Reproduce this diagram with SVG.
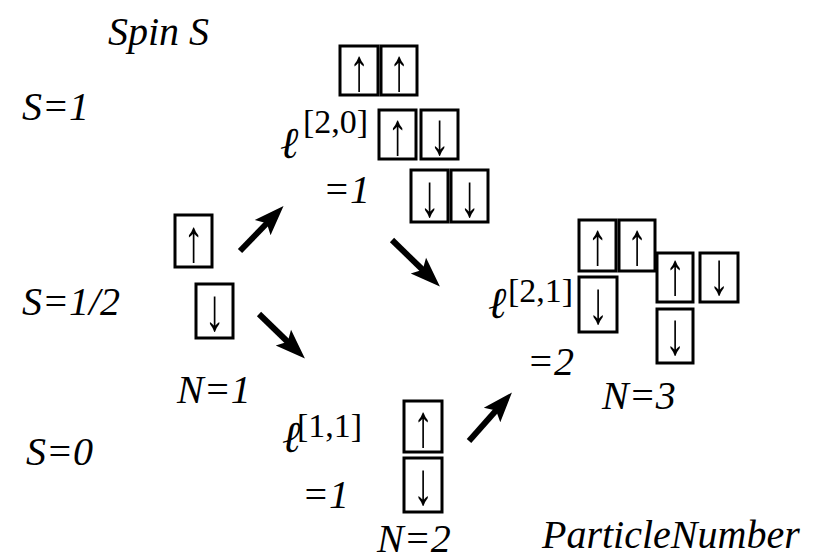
<svg xmlns="http://www.w3.org/2000/svg" width="818" height="558" viewBox="0 0 818 558">
<style>
.box{fill:none;stroke:#000;stroke-width:3}
.arr{stroke:#000;stroke-width:6;fill:none}
</style>
<defs>
<marker id="ah" viewBox="0 0 30 24" refX="12" refY="12" markerWidth="30" markerHeight="24" markerUnits="userSpaceOnUse" orient="auto">
<path d="M0,1 L30,12 L0,23 L6,12 Z" fill="#000" stroke="none"/>
</marker>
</defs>
<rect width="818" height="558" fill="#fff"/>
<g id="axes">
<text font-family="Liberation Serif, Times New Roman, serif" font-style="italic" font-size="40" x="108" y="45">Spin S</text>
<text font-family="Liberation Serif, Times New Roman, serif" font-style="italic" font-size="40" x="22" y="120">S=1</text>
<text font-family="Liberation Serif, Times New Roman, serif" font-style="italic" font-size="40" x="22" y="315">S=1/2</text>
<text font-family="Liberation Serif, Times New Roman, serif" font-style="italic" font-size="40" x="26" y="465">S=0</text>
<text font-family="Liberation Serif, Times New Roman, serif" font-style="italic" font-size="40" x="542" y="548">ParticleNumber</text>
</g>
<g id="node-n1">
<rect class="box" x="175" y="215" width="37" height="52"/>
<rect class="box" x="196" y="284" width="37" height="54"/>
<text font-family="Liberation Serif, Times New Roman, serif" font-size="40" text-anchor="middle" x="193.5" y="174.3" transform="scale(1 1.5)">↑</text>
<text font-family="Liberation Serif, Times New Roman, serif" font-size="40" text-anchor="middle" x="214.5" y="220.3" transform="scale(1 1.5)">↓</text>
<text font-family="Liberation Serif, Times New Roman, serif" font-style="italic" font-size="40" x="177" y="403">N=1</text>
</g>
<g id="node-20">
<rect class="box" x="340" y="46" width="38" height="49"/>
<rect class="box" x="381" y="46" width="36" height="49"/>
<rect class="box" x="379" y="110" width="37" height="49"/>
<rect class="box" x="421" y="110" width="37" height="49"/>
<rect class="box" x="411" y="170" width="37" height="52"/>
<rect class="box" x="451" y="170" width="37" height="52"/>
<text font-family="Liberation Serif, Times New Roman, serif" font-size="40" text-anchor="middle" x="359" y="60" transform="scale(1 1.5)">↑</text>
<text font-family="Liberation Serif, Times New Roman, serif" font-size="40" text-anchor="middle" x="399" y="60" transform="scale(1 1.5)">↑</text>
<text font-family="Liberation Serif, Times New Roman, serif" font-size="40" text-anchor="middle" x="397.5" y="102.7" transform="scale(1 1.5)">↑</text>
<text font-family="Liberation Serif, Times New Roman, serif" font-size="40" text-anchor="middle" x="439.5" y="102.7" transform="scale(1 1.5)">↓</text>
<text font-family="Liberation Serif, Times New Roman, serif" font-size="40" text-anchor="middle" x="429.5" y="143.7" transform="scale(1 1.5)">↓</text>
<text font-family="Liberation Serif, Times New Roman, serif" font-size="40" text-anchor="middle" x="469.5" y="143.7" transform="scale(1 1.5)">↓</text>
<text font-family="Liberation Serif, Times New Roman, serif" font-style="italic" font-size="44" x="280" y="158">ℓ</text>
<text font-family="Liberation Serif, Times New Roman, serif" font-size="34" x="303" y="133">[2,0]</text>
<text font-family="Liberation Serif, Times New Roman, serif" font-style="italic" font-size="40" x="323" y="203">=1</text>
</g>
<g id="node-11">
<rect class="box" x="404" y="401" width="38" height="51"/>
<rect class="box" x="404" y="458" width="38" height="54"/>
<text font-family="Liberation Serif, Times New Roman, serif" font-size="40" text-anchor="middle" x="423" y="297.3" transform="scale(1 1.5)">↑</text>
<text font-family="Liberation Serif, Times New Roman, serif" font-size="40" text-anchor="middle" x="423" y="336.3" transform="scale(1 1.5)">↓</text>
<text font-family="Liberation Serif, Times New Roman, serif" font-style="italic" font-size="44" x="282" y="452">ℓ</text>
<text font-family="Liberation Serif, Times New Roman, serif" font-size="34" x="297" y="437">[1,1]</text>
<text font-family="Liberation Serif, Times New Roman, serif" font-style="italic" font-size="40" x="302" y="508">=1</text>
<text font-family="Liberation Serif, Times New Roman, serif" font-style="italic" font-size="40" x="377" y="552">N=2</text>
</g>
<g id="node-21">
<rect class="box" x="579" y="220" width="37" height="51"/>
<rect class="box" x="619" y="220" width="36" height="51"/>
<rect class="box" x="579" y="277" width="38" height="55"/>
<rect class="box" x="657" y="253" width="36" height="49"/>
<rect class="box" x="700" y="253" width="38" height="49"/>
<rect class="box" x="657" y="309" width="36" height="54"/>
<text font-family="Liberation Serif, Times New Roman, serif" font-size="40" text-anchor="middle" x="597.5" y="176.3" transform="scale(1 1.5)">↑</text>
<text font-family="Liberation Serif, Times New Roman, serif" font-size="40" text-anchor="middle" x="637" y="176.3" transform="scale(1 1.5)">↑</text>
<text font-family="Liberation Serif, Times New Roman, serif" font-size="40" text-anchor="middle" x="598" y="215.3" transform="scale(1 1.5)">↓</text>
<text font-family="Liberation Serif, Times New Roman, serif" font-size="40" text-anchor="middle" x="675" y="195.7" transform="scale(1 1.5)">↑</text>
<text font-family="Liberation Serif, Times New Roman, serif" font-size="40" text-anchor="middle" x="719" y="195.7" transform="scale(1 1.5)">↓</text>
<text font-family="Liberation Serif, Times New Roman, serif" font-size="40" text-anchor="middle" x="675" y="236" transform="scale(1 1.5)">↓</text>
<text font-family="Liberation Serif, Times New Roman, serif" font-style="italic" font-size="44" x="488" y="318">ℓ</text>
<text font-family="Liberation Serif, Times New Roman, serif" font-size="34" x="508" y="302">[2,1]</text>
<text font-family="Liberation Serif, Times New Roman, serif" font-style="italic" font-size="40" x="527" y="375">=2</text>
<text font-family="Liberation Serif, Times New Roman, serif" font-style="italic" font-size="40" x="602" y="409">N=3</text>
</g>
<g id="connectors">
<line class="arr" x1="240" y1="251" x2="271" y2="219" marker-end="url(#ah)"/>
<line class="arr" x1="259" y1="314" x2="292" y2="346" marker-end="url(#ah)"/>
<line class="arr" x1="392" y1="240" x2="427" y2="274" marker-end="url(#ah)"/>
<line class="arr" x1="469" y1="441" x2="500" y2="406" marker-end="url(#ah)"/>
</g>
</svg>
